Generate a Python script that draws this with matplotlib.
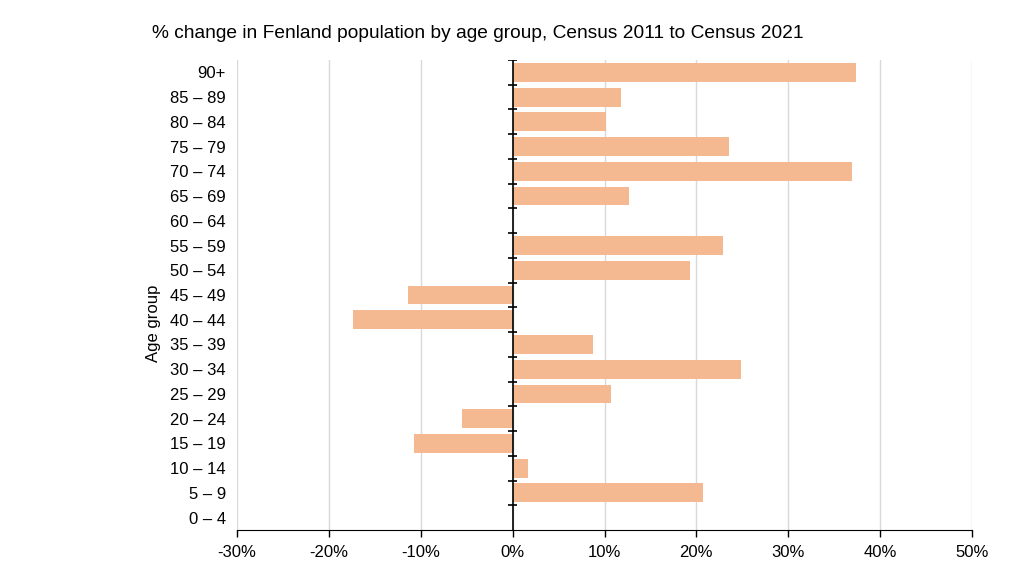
import numpy as np
import matplotlib.pyplot as plt

plt.rcParams['font.family'] = ['Liberation Sans', 'DejaVu Sans']

# age groups from bottom to top
groups = ['0 – 4', '5 – 9', '10 – 14', '15 – 19', '20 – 24', '25 – 29', '30 – 34',
          '35 – 39', '40 – 44', '45 – 49', '50 – 54', '55 – 59', '60 – 64', '65 – 69',
          '70 – 74', '75 – 79', '80 – 84', '85 – 89', '90+']
change = [0.0, 20.7, 1.7, -10.7, -5.5, 10.7, 24.9, 8.7, -17.4, -11.4, 19.3, 22.9,
          0.0, 12.7, 36.9, 23.6, 10.2, 11.75, 37.4]
xticks = [-30, -20, -10, 0, 10, 20, 30, 40, 50]

fig = plt.figure(figsize=(10.24, 5.76), dpi=100)
ax = fig.add_axes([237/1024, 1 - 530/576, (972-237)/1024, (530-60)/576])

y = np.arange(len(groups))
ax.barh(y, change, height=0.76, color='#f4b990', zorder=2)

ax.set_xlim(-30, 50)
ax.set_ylim(-0.5, len(groups) - 0.5)
ax.set_xticks(xticks)
ax.set_xticklabels([f'{v}%' for v in xticks])
ax.set_yticks(y)
ax.set_yticklabels(groups)
ax.grid(axis='x', color='#d9d9d9', lw=1, zorder=0)

for s in ['top', 'right', 'left']:
    ax.spines[s].set_visible(False)
ax.spines['bottom'].set_color('black')
ax.tick_params(axis='y', length=0, pad=8, labelsize=12)
ax.tick_params(axis='x', length=5, width=1, labelsize=12, pad=6)

# zero line with category boundary ticks
ax.axvline(0, color='black', lw=1.2, zorder=3)
ax.hlines(y + 0.5, -0.45, 0.45, color='black', lw=1.2, zorder=3)

ax.set_ylabel('Age group', fontsize=12)
ax.yaxis.set_label_coords(-0.104, 0.44)
fig.text(152/1024, 1 - 34/576, '% change in Fenland population by age group, Census 2011 to Census 2021',
         fontsize=13.8, ha='left', va='center')

fig.savefig('out.png', dpi=100)
